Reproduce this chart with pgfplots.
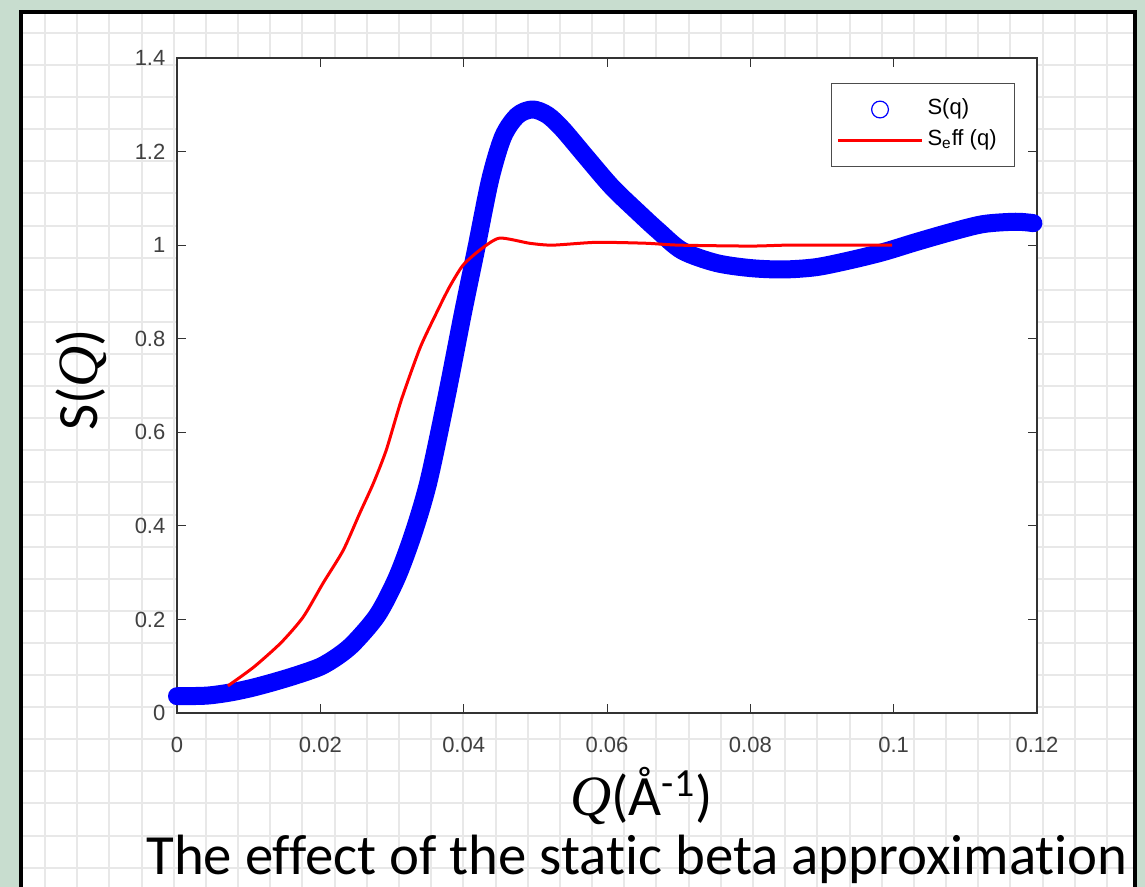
\documentclass[border=0pt]{standalone}
\usepackage{fontspec}
\newfontfamily\arialf{Liberation Sans}
\newfontfamily\carlito{Carlito}[Ligatures=NoCommon]
\newfontfamily\timesf{Liberation Serif}
\usepackage{pgfplots}
\pgfplotsset{compat=1.18}
\definecolor{sage}{RGB}{200,221,207}
\definecolor{paper}{RGB}{232,232,232}
\definecolor{tickgray}{RGB}{64,64,64}
\newcommand\tickfont{\arialf\fontsize{11}{13}\selectfont}
\newcommand\labfont{\carlito\fontsize{28.5}{33}\selectfont}

\begin{document}
\begin{tikzpicture}
\useasboundingbox (0pt,0pt) rectangle (572.5pt,-443.5pt);
% slide background: sage margin, framed grid paper
\begin{scope}[x=0.5pt,y=-0.5pt]
  \clip (0,0) rectangle (1145,887);
  \fill[sage] (0,0) rectangle (1145,887);
  \fill[white] (20.5,12) rectangle (1135,900);
  \foreach \i in {0,...,33}
    \draw[paper, line width=1pt] ({45+32.18*\i},12) -- ({45+32.18*\i},900);
  \foreach \j in {0,...,26}
    \draw[paper, line width=1pt] (20.5,{33+32.1*\j}) -- (1135,{33+32.1*\j});
  \draw[black, line width=2pt] (20.5,900) -- (20.5,12) -- (1135,12) -- (1135,900);
\end{scope}

\begin{axis}[
  at={(88.5pt,-356.5pt)}, anchor=south west,
  scale only axis, width=430pt, height=327.5pt,
  xmin=0, xmax=0.12, ymin=0, ymax=1.4,
  xtick={0,0.02,0.04,0.06,0.08,0.1,0.12},
  xticklabels={0,0.02,0.04,0.06,0.08,0.1,0.12},
  ytick={0,0.2,0.4,0.6,0.8,1,1.2,1.4},
  yticklabels={0,0.2,0.4,0.6,0.8,1,1.2,1.4},
  /pgf/number format/assume math mode=true,
  tick align=inside, major tick length=4.5pt,
  tick style={black!80, line width=0.5pt},
  axis line style={black!80, line width=0.6pt},
  axis background/.style={fill=white},
  ticklabel style={font=\tickfont, text=tickgray},
  xticklabel style={yshift=-8.5pt},
  yticklabel style={xshift=-2.3pt},
  clip=false,
  legend cell align=left,
  legend style={at={(rel axis cs:0.7605,0.9618)}, anchor=north west,
    draw=black!70, line width=0.5pt, fill=white,
    inner xsep=2.5pt, inner ysep=7.5pt, column sep=2pt, row sep=4.5pt,
    font=\tickfont, text=black,
    nodes={inner sep=0pt, text height=8pt, text depth=3pt}},
]
\addplot[blue, line width=9pt, smooth, line cap=round, line join=round,
  legend image code/.code={\path[draw=none, line width=0pt] (0pt,0pt) -- (42pt,0pt);
    \draw[blue, line width=0.6pt] (21pt,0pt) circle (4.2pt);}]
table {
0      0.036
0.004  0.037
0.0071 0.043
0.010  0.052
0.013  0.064
0.0165 0.080
0.020  0.099
0.0225 0.122
0.0247 0.150
0.028  0.210
0.0307 0.290
0.033  0.385
0.0351 0.495
0.0376 0.675
0.0399 0.855
0.0418 0.996
0.0437 1.140
0.0455 1.232
0.0475 1.277
0.0496 1.290
0.0517 1.278
0.0538 1.248
0.0570 1.190
0.0607 1.124
0.0645 1.068
0.0672 1.030
0.0705 0.988
0.0752 0.962
0.0800 0.951
0.0846 0.948
0.0892 0.953
0.0940 0.968
0.0985 0.985
0.1030 1.006
0.1080 1.028
0.1125 1.045
0.1170 1.050
0.1195 1.047
};
\addlegendentry{\makebox[41pt][l]{S(q)}}
\addplot[red, line width=1.5pt, line join=round, smooth, tension=0.4,
  legend image code/.code={\draw[red, line width=1.5pt] (0pt,0pt) -- (42pt,0pt);}]
table {
0.0071 0.058
0.0107 0.098
0.0145 0.150
0.0176 0.205
0.0204 0.278
0.0232 0.348
0.0255 0.427
0.0274 0.491
0.0292 0.562
0.0313 0.669
0.0339 0.780
0.0362 0.855
0.0380 0.910
0.0399 0.957
0.0423 0.990
0.0450 1.015
0.0492 1.004
0.0524 1.000
0.0585 1.006
0.0655 1.004
0.0700 1.000
0.0800 0.998
0.0850 1.000
0.0900 1.000
0.0998 1.000
};
\addlegendentry{\makebox[41pt][l]{S\textsubscript{e}ff (q)}}
\end{axis}

\begin{scope}[x=0.5pt,y=-0.5pt]
  \node[rotate=90, inner sep=0pt, font=\labfont] at (81,380) {S({\timesf\itshape Q})};
  \node[anchor=base west, inner sep=0pt, font=\labfont] at (570,815)
    {{\timesf\itshape Q}(Å\textsuperscript{-1})};
  \node[anchor=base west, inner sep=0pt, font=\carlito\fontsize{28.4}{33}\selectfont]
    at (146,874) {The effect of the static beta approximation};
\end{scope}
\end{tikzpicture}
\end{document}
